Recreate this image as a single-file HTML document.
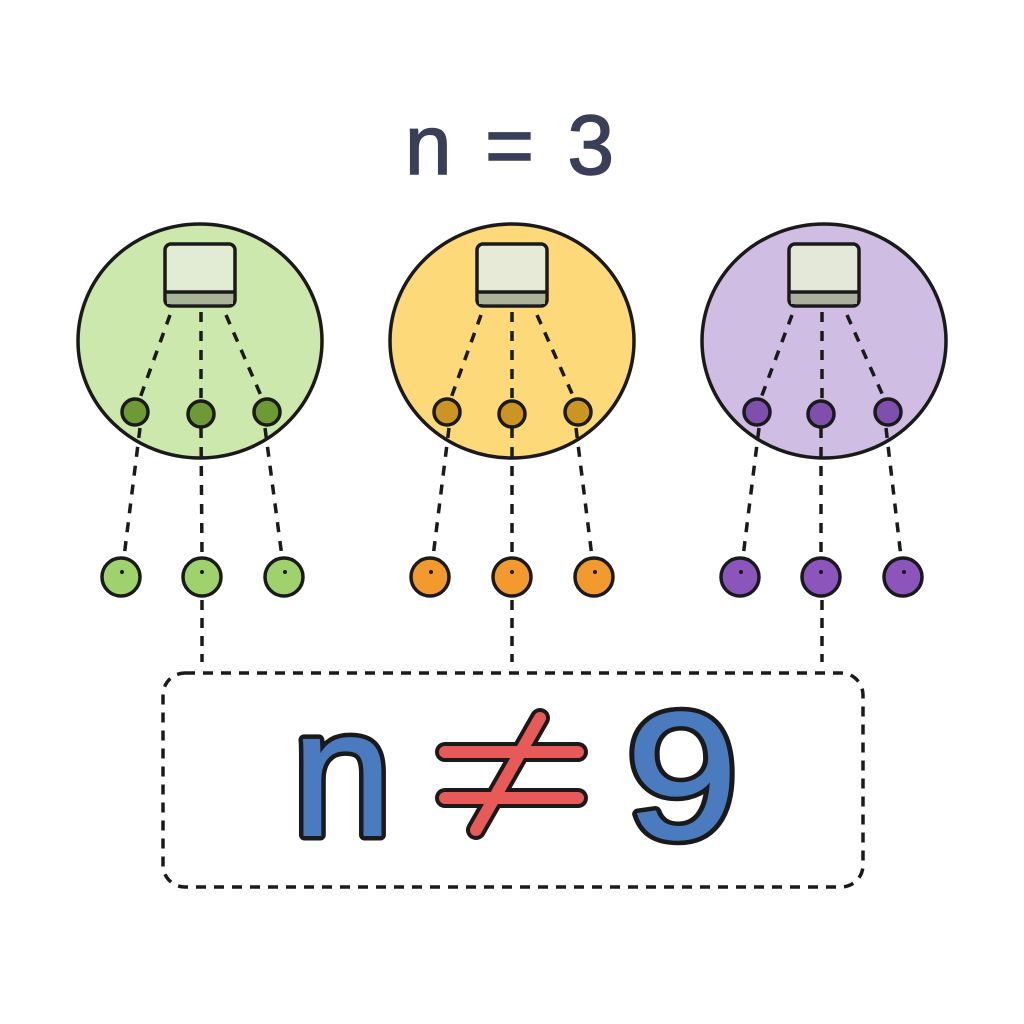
<!DOCTYPE html>
<html><head><style>body{margin:0;background:#fff}svg{display:block}</style></head><body>
<svg width="1024" height="1024" viewBox="0 0 1024 1024" xmlns="http://www.w3.org/2000/svg">
<rect width="1024" height="1024" fill="#fff"/>
<text x="512" y="174" text-anchor="middle" font-family="Liberation Sans, sans-serif" font-size="84" fill="#3a3f58" stroke="#3a3f58" stroke-width="1.5" letter-spacing="5">n = 3</text>
<g stroke="#1a1a1a" stroke-width="3.5" stroke-dasharray="10 8" fill="none">
<path d="M202 600V662M512 600V662M822 600V662"/>
<rect x="163" y="673" width="700" height="214" rx="22"/>
</g>
<g stroke="#1a1a1a" stroke-width="3.5">
 <ellipse cx="200" cy="341" rx="122" ry="117" fill="#cde8ad"/>
 <ellipse cx="512" cy="341" rx="122" ry="117" fill="#fdd97a"/>
 <ellipse cx="824" cy="341" rx="122" ry="117" fill="#cfbde3"/>
</g>
<g stroke="#1a1a1a" stroke-width="3.5" stroke-dasharray="10 9" fill="none">
 <path d="M170 315L140 398M201 312V398M226 315L262 398M140 428L124 557M201 428L202 557M265 428L282 557"/>
 <path d="M481 315L451 398M512 312V398M537 315L574 398M449 428L433 557M512 428L512 557M576 428L592 557"/>
 <path d="M792 315L761 398M822 312V398M847 315L884 398M759 428L743 557M821 428L821 557M886 428L901 557"/>
</g>
<g stroke="#1a1a1a" stroke-width="3.5">
 <g><rect x="165" y="244" width="70" height="62" rx="6" fill="#e2ebd4"/><rect x="167" y="292" width="66" height="12" fill="#a9b497" stroke="none"/></g>
 <g><rect x="477" y="244" width="70" height="62" rx="6" fill="#e6ead6"/><rect x="479" y="292" width="66" height="12" fill="#adb39b" stroke="none"/></g>
 <g><rect x="789" y="244" width="70" height="62" rx="6" fill="#e4e8d8"/><rect x="791" y="292" width="66" height="12" fill="#abb09e" stroke="none"/></g>
 <path d="M165 292H235M477 292H547M789 292H859" fill="none"/>
 <g fill="#6e9a35"><circle cx="135" cy="412" r="13"/><circle cx="201" cy="414" r="13"/><circle cx="267" cy="412" r="13"/></g>
 <g fill="#cc9420"><circle cx="447" cy="412" r="13"/><circle cx="512" cy="414" r="13"/><circle cx="578" cy="412" r="13"/></g>
 <g fill="#7f4fae"><circle cx="757" cy="412" r="13"/><circle cx="821" cy="414" r="13"/><circle cx="888" cy="412" r="13"/></g>
 <g fill="#9fd26d"><circle cx="121" cy="577" r="19"/><circle cx="202" cy="577" r="19"/><circle cx="284" cy="577" r="19"/></g>
 <g fill="#f29a2e"><circle cx="430" cy="577" r="19"/><circle cx="512" cy="577" r="19"/><circle cx="594" cy="577" r="19"/></g>
 <g fill="#8b55bb"><circle cx="740" cy="577" r="19"/><circle cx="821" cy="577" r="19"/><circle cx="903" cy="577" r="19"/></g>
</g>
<g fill="#1a1a1a">
 <circle cx="122" cy="572" r="2"/><circle cx="202" cy="572" r="2"/><circle cx="285" cy="572" r="2"/>
 <circle cx="431" cy="572" r="2"/><circle cx="512" cy="572" r="2"/><circle cx="595" cy="572" r="2"/>
 <circle cx="741" cy="572" r="2"/><circle cx="821" cy="572" r="2"/><circle cx="904" cy="572" r="2"/>
</g>
<g font-family="Liberation Sans, sans-serif" font-size="180" fill="#4a7bbf" stroke="#1a1a1a" stroke-width="11" paint-order="stroke" stroke-linejoin="round">
 <text x="292" y="835">n</text>
 <text x="0" y="838" transform="translate(626 0) scale(1.12 1)">9</text>
</g>
<g font-family="Liberation Sans, sans-serif" font-size="180" fill="#4a7bbf">
 <text x="292" y="835" stroke="#4a7bbf" stroke-width="2">n</text>
 <text x="0" y="838" transform="translate(626 0) scale(1.12 1)" stroke="#4a7bbf" stroke-width="2">9</text>
</g>
<g stroke-linecap="round">
 <path d="M445 752H578M445 798H578M476 830L540 718" stroke="#1a1a1a" stroke-width="20"/>
 <path d="M445 752H578M445 798H578M476 830L540 718" stroke="#e85a57" stroke-width="12"/>
</g>
</svg>
</body></html>
